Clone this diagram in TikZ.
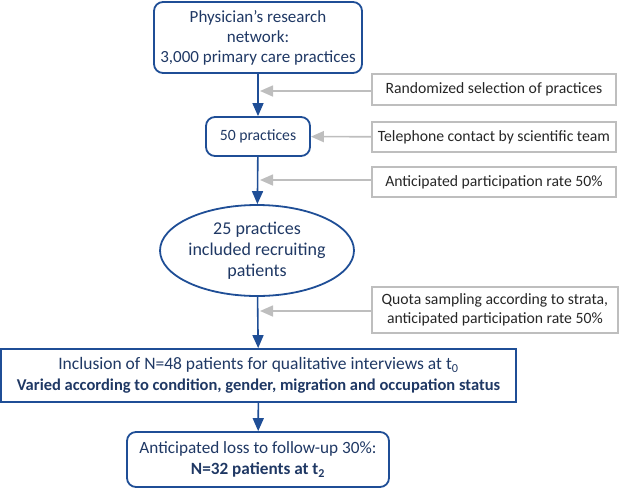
\documentclass[tikz,border=0pt]{standalone}
\usepackage{fontspec}
\setmainfont{Carlito}
\usepackage{tikz}
\usetikzlibrary{arrows.meta, positioning, shapes.geometric}
\definecolor{flowblue}{RGB}{31,78,150}
\definecolor{flowtext}{RGB}{31,56,100}
\definecolor{flowgray}{RGB}{190,190,190}

\tikzset{
    flow/.style={draw=flowblue,line width=1.6pt,-{Triangle[length=13pt,width=11pt]}},
    side/.style={draw=flowgray,line width=1.6pt,-{Triangle[length=13pt,width=11pt]}}
}

\begin{document}
\begin{tikzpicture}[x=1pt,y=1pt,font=\fontsize{15.7}{18.5}\selectfont]
    \tikzstyle{mainbox}=[shape=rectangle,rounded corners=9pt,draw=flowblue,line width=1.8pt,text=flowtext,align=center,inner sep=0pt]
    \tikzstyle{wide}=[shape=rectangle,draw=flowblue,line width=1.8pt,text=flowtext,align=center,inner sep=0pt]
    \tikzstyle{oval}=[shape=ellipse,draw=flowblue,line width=1.8pt,text=flowtext,align=center,inner sep=0pt]
    \tikzstyle{note}=[shape=rectangle,draw=flowgray,line width=1.8pt,text=black!85,align=center,inner sep=0pt,anchor=west]

    \useasboundingbox (0,0) rectangle (620,-491);

    \node[mainbox, minimum width=208, minimum height=71, font=\fontsize{17}{20}\selectfont] (net) at (258,-37.5) {Physician's research\\network:\\3,000 primary care practices};
    \node[mainbox, minimum width=104, minimum height=39] (fifty) at (258,-136.5) {50 practices};
    \node[oval, minimum width=180, minimum height=91, font=\fontsize{18}{21}\selectfont] (incl) at (257,-250.5) {25 practices\\included recruiting\\patients};
    \node[wide, minimum width=515, minimum height=53, font=\fontsize{17.5}{21}\selectfont] (pat) at (258.5,-375.5) {Inclusion of N=48 patients for qualitative interviews at t\textsubscript{0}\\\fontsize{16.5}{21}\selectfont\textbf{Varied according to condition, gender, migration and occupation status}};
    \node[mainbox, minimum width=262, minimum height=55, font=\fontsize{17.2}{21}\selectfont] (loss) at (258,-459.5) {Anticipated loss to follow-up 30\%:\\\textbf{N=32 patients at t\textsubscript{2}}};

    \node[note, minimum width=244, minimum height=31] (rand) at (371,-89.5) {Randomized selection of practices};
    \node[note, minimum width=244, minimum height=30] (tel) at (371,-137) {Telephone contact by scientific team};
    \node[note, minimum width=244, minimum height=30] (rate) at (371,-182) {Anticipated participation rate 50\%};
    \node[note, minimum width=246, minimum height=46] (quota) at (371,-310) {Quota sampling according to strata,\\anticipated participation rate 50\%};

    \coordinate (r0) at (260,-91);
    \coordinate (r1) at (260,-180);
    \coordinate (r2) at (260,-311);

    % main flow
    \draw[flow] (net) -- (fifty);
    \draw[flow] (fifty) -- (incl);
    \draw[flow] (incl) -- (pat);
    \draw[flow] (pat) -- (loss);

    % side notes
    \draw[side] (rand.west |- r0) -- (r0);
    \draw[side] (tel) -- (fifty);
    \draw[side] (rate.west |- r1) -- (r1);
    \draw[side] (quota.west |- r2) -- (r2);

\end{tikzpicture}
\end{document}
